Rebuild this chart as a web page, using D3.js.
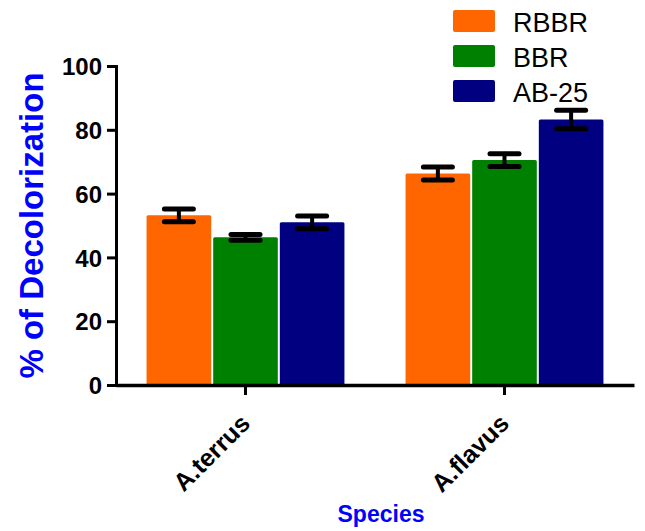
<!DOCTYPE html>
<html lang="en">
<head>
<meta charset="UTF-8">
<title>Decolorization</title>
<script src="https://d3js.org/d3.v7.min.js"></script>
<style>
body{margin:0; background:#fff;}
svg text{font-family:"Liberation Sans", Arial, sans-serif;}
</style>
</head>
<body>
<div class="chart"></div>
<script>
// data
var species = ["A.terrus", "A.flavus"];
var dyes = ["RBBR", "BBR", "AB-25"];
var rbbr = [53.2, 66.3];
var bbr = [46.3, 70.5];
var ab25 = [51.0, 83.2];
var rbbrErr = [2.0, 2.0];
var bbrErr = [0.9, 2.0];
var ab25Err = [2.0, 2.9];
var yTicks = [0, 20, 40, 60, 80, 100];
var colors = ["#ff6600", "#008000", "#000080"];

var w = 645, h = 531;
var svg = d3.select(".chart").append("svg")
	.attr("width", w)
	.attr("height", h);

var values = [rbbr, bbr, ab25];
var errs = [rbbrErr, bbrErr, ab25Err];
var rows = [];
species.forEach(function(s, i){
	dyes.forEach(function(d, j){
		rows.push({sp: s, dye: d, v: values[j][i], e: errs[j][i], c: colors[j]});
	});
});

var x0 = d3.scaleBand().domain(species).range([116, 634])
	.paddingInner(0.236).paddingOuter(0.118);
var x1 = d3.scaleBand().domain(dyes).range([0, x0.bandwidth()]).paddingInner(0.03);
var y = d3.scaleLinear().domain([0, 100]).range([385, 66]);

// bars
svg.selectAll("rect.bar")
	.data(rows)
	.enter()
	.append("rect")
	.attr("class", "bar")
	.attr("x", function(d){ return x0(d.sp) + x1(d.dye); })
	.attr("y", function(d){ return y(d.v); })
	.attr("width", x1.bandwidth())
	.attr("height", function(d){ return y(0) - y(d.v); })
	.attr("rx", 1.5)
	.attr("fill", function(d){ return d.c; });

// error bars
var cx = function(r){ return x0(r.sp) + x1(r.dye) + x1.bandwidth()/2; };
var eb = svg.selectAll("g.err")
	.data(rows)
	.enter()
	.append("g")
	.attr("class", "err")
	.attr("stroke", "#000")
	.attr("stroke-linecap", "round");
eb.append("line")
	.attr("stroke-width", 4)
	.attr("x1", cx)
	.attr("x2", cx)
	.attr("y1", function(d){ return y(d.v + d.e); })
	.attr("y2", function(d){ return y(d.v - d.e); });
eb.selectAll("line.cap")
	.data(function(d){ return [{r: d, s: 1}, {r: d, s: -1}]; })
	.enter()
	.append("line")
	.attr("class", "cap")
	.attr("stroke-width", 5)
	.attr("x1", function(d){ return cx(d.r) - 14.5; })
	.attr("x2", function(d){ return cx(d.r) + 14.5; })
	.attr("y1", function(d){ return y(d.r.v + d.s * d.r.e); })
	.attr("y2", function(d){ return y(d.r.v + d.s * d.r.e); });

// y axis
var yAxis = svg.append("g")
	.attr("transform", "translate(116,0)")
	.call(d3.axisLeft(y).tickValues(yTicks).tickSize(9).tickPadding(5));
yAxis.select(".domain").attr("stroke-width", 3);
yAxis.selectAll(".tick line").attr("stroke-width", 3);
yAxis.selectAll(".tick text")
	.attr("font-size", "24px")
	.attr("font-weight", "bold")
	.attr("fill", "#000")
	.attr("dy", "0.36em");

// x axis
var xAxis = svg.append("g")
	.attr("transform", "translate(0,385)")
	.call(d3.axisBottom(x0).tickSize(10).tickSizeOuter(0));
xAxis.select(".domain").attr("stroke-width", 3.5);
xAxis.selectAll(".tick line").attr("stroke-width", 3);
xAxis.selectAll(".tick text")
	.attr("font-size", "25px")
	.attr("font-weight", "bold")
	.attr("fill", "#000")
	.attr("text-anchor", "end")
	.attr("y", 0)
	.attr("dy", "0")
	.attr("transform", "translate(6,40) rotate(-45)");

// axis titles
svg.append("text")
	.attr("transform", "translate(43,225.5) rotate(-90)")
	.attr("text-anchor", "middle")
	.attr("font-size", "33px")
	.attr("font-weight", "bold")
	.attr("fill", "#0000ff")
	.text("% of Decolorization");

svg.append("text")
	.attr("x", 381)
	.attr("y", 522)
	.attr("text-anchor", "middle")
	.attr("font-size", "23px")
	.attr("font-weight", "bold")
	.attr("fill", "#0000ff")
	.text("Species");

// legend
var leg = svg.selectAll("g.leg")
	.data(dyes)
	.enter()
	.append("g")
	.attr("class", "leg")
	.attr("transform", function(d, i){ return "translate(453," + (10 + i * 35) + ")"; });
leg.append("rect")
	.attr("width", 42)
	.attr("height", 22)
	.attr("rx", 2)
	.attr("fill", function(d, i){ return colors[i]; });
leg.append("text")
	.attr("x", 60)
	.attr("y", 22)
	.attr("font-size", "27px")
	.attr("fill", "#000")
	.text(function(d){ return d; });
</script>
</body>
</html>
